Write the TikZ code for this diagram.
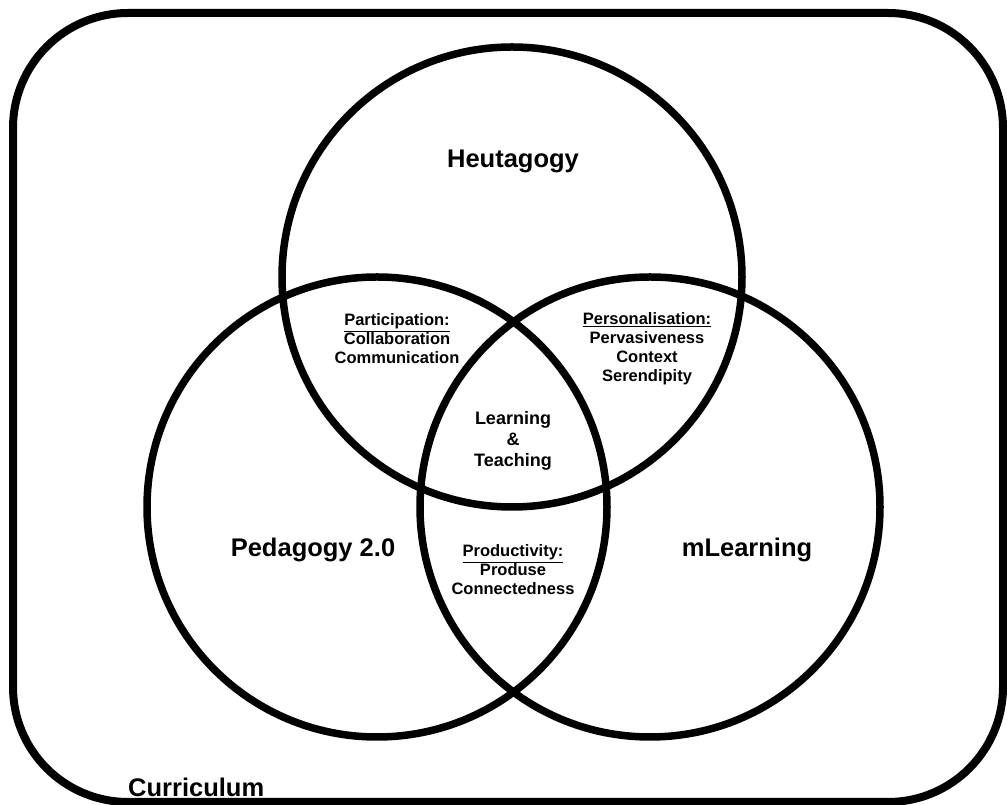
\documentclass[tikz,border=0pt]{standalone}
\usepackage{fontspec}
\setmainfont{Liberation Sans}

\begin{document}
\begin{tikzpicture}[x=1pt, y=1pt, every node/.style={font=\bfseries, align=center, inner sep=0pt},
  ring/.style={circle, draw=black, line width=7.5pt, minimum size=460pt},
  biglabel/.style={font=\fontsize{25.5}{30}\selectfont\bfseries},
  smalllabel/.style={font=\fontsize{16.5}{19}\selectfont\bfseries}]
  % 画像サイズ (1007 x 805)
  \useasboundingbox (0,0) rectangle (1007,805);

  % 外枠 (Curriculum) - 角丸
  \draw[line width=8pt, rounded corners=115pt] (13,3) rectangle (1003,792);

  % 三つの円
  \foreach \name/\cx/\cy in {heut/512/528, peda/377/298, mlearn/650/298} {
    \node[ring] (\name) at (\cx,\cy) {};
  }

  % 円の名前
  \node[biglabel] (heutlabel) at (513,644) {Heutagogy};
  \node[biglabel] (pedalabel) at (313,255) {Pedagogy 2.0};
  \node[biglabel] (mlearnlabel) at (747,255) {mLearning};

  % 重なり部分
  \node[smalllabel] (particip) at (397,466) {\underline{Participation:}\\Collaboration\\Communication};
  \node[smalllabel] (personal) at (647,456) {\underline{Personalisation:}\\Pervasiveness\\Context\\Serendipity};
  \node[smalllabel] (product) at (513,235) {\underline{Productivity:}\\Produse\\Connectedness};
  \node[font=\fontsize{18}{21}\selectfont\bfseries] (core) at (513,364) {Learning\\\&\\Teaching};

  % 左下のラベル
  \node[biglabel, anchor=base west] (curric) at (128,8) {Curriculum};

\end{tikzpicture}
\end{document}
